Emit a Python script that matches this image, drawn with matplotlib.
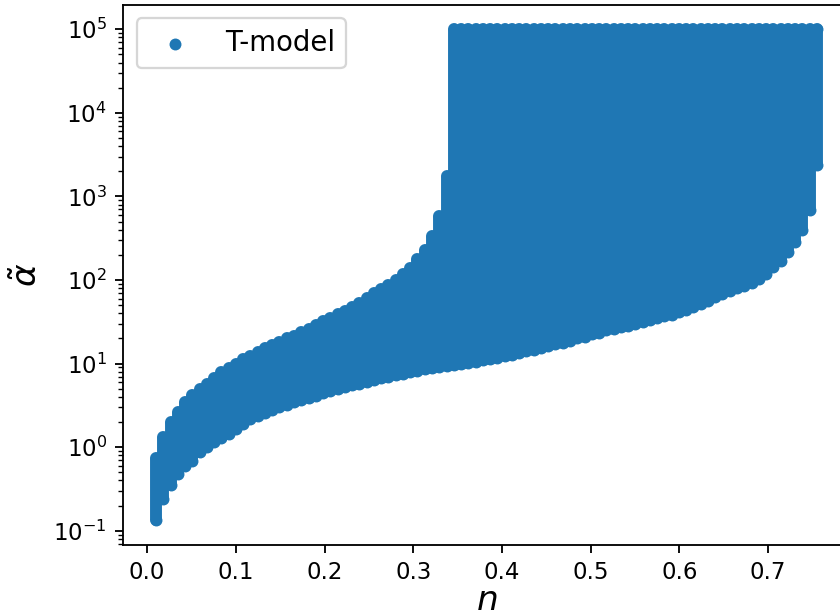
# -*- coding: utf-8 -*-

import numpy as np
import matplotlib
matplotlib.use('Agg')
import matplotlib.pyplot as plt

# n grid (columns of the scan)
n_vals = [0.0100, 0.0182, 0.0264, 0.0346, 0.0427, 0.0509, 0.0591, 0.0673, 0.0755, 0.0837,
          0.0919, 0.1001, 0.1082, 0.1164, 0.1246, 0.1328, 0.1410, 0.1492, 0.1574, 0.1656,
          0.1737, 0.1819, 0.1901, 0.1983, 0.2065, 0.2147, 0.2229, 0.2311, 0.2392, 0.2474,
          0.2556, 0.2638, 0.2720, 0.2802, 0.2884, 0.2966, 0.3047, 0.3129, 0.3211, 0.3293,
          0.3375, 0.3457, 0.3539, 0.3621, 0.3702, 0.3784, 0.3866, 0.3948, 0.4030, 0.4112,
          0.4194, 0.4276, 0.4357, 0.4439, 0.4521, 0.4603, 0.4685, 0.4767, 0.4849, 0.4931,
          0.5012, 0.5094, 0.5176, 0.5258, 0.5340, 0.5422, 0.5504, 0.5586, 0.5667, 0.5749,
          0.5831, 0.5913, 0.5995, 0.6077, 0.6159, 0.6241, 0.6322, 0.6404, 0.6486, 0.6568,
          0.6650, 0.6732, 0.6814, 0.6896, 0.6977, 0.7059, 0.7141, 0.7223, 0.7305, 0.7387,
          0.7469, 0.7551]

# smallest alpha~ found in each column
alpha_lo = [0.133, 0.242, 0.356, 0.479, 0.592, 0.692, 0.871, 1.00, 1.15, 1.29,
            1.45, 1.66, 1.91, 2.16, 2.37, 2.57, 2.79, 2.99, 3.20, 3.43,
            3.67, 3.89, 4.12, 4.42, 4.68, 4.95, 5.19, 5.50, 5.75, 6.10,
            6.38, 6.68, 7.00, 7.33, 7.59, 7.94, 8.22, 8.51, 8.81, 9.06,
            9.31, 9.55, 9.89, 10.2, 10.6, 11.0, 11.4, 11.8, 12.3, 12.8,
            13.4, 14.0, 14.7, 15.4, 16.1, 17.0, 17.9, 18.9, 20.0, 21.1,
            22.4, 23.4, 25.4, 26.2, 27.1, 28.5, 30.1, 31.4, 33.7, 35.6,
            37.1, 38.6, 41.0, 43.8, 47.5, 51.6, 56.9, 62.1, 68.1, 74.6,
            79.3, 85.7, 92.3, 103, 118, 143, 171, 216, 284, 392,
            681, 2360]

# largest alpha~ found in each column (scan capped at 1e5)
alpha_hi = [0.74, 1.34, 2.0, 2.66, 3.44, 4.18, 5.02, 5.77, 6.73, 7.89,
            8.87, 10.0, 11.4, 12.5, 13.7, 15.2, 16.5, 18.4, 20.2, 21.7,
            23.8, 26.1, 29.2, 32.3, 35.4, 38.8, 42.6, 48.0, 53.6, 60.4,
            69.3, 77.6, 86.7, 99.5, 117, 139, 178, 228, 338, 589,
            1780] + [1e5] * 51

col = '#1f77b4'
dia = 5.2  # marker diameter, points

fig = plt.figure(figsize=(840 / 165, 615 / 165), dpi=165)
ax = fig.add_axes([0.1464, 0.1138, 0.8655, 0.8785])
ax.set_yscale('log')

# each column is a dense stack of markers -> one round-capped segment
ax.vlines(n_vals, alpha_lo, alpha_hi, colors=col, linewidth=dia, capstyle='round')
ax.scatter(n_vals + n_vals, alpha_lo + alpha_hi, s=dia ** 2, c=col, linewidths=0,
           label='T-model')

ax.set_xlabel(r'$n$', fontsize=15, labelpad=0)
ax.set_ylabel(r'$\tilde{\alpha}$', fontsize=15)
ax.legend(loc='upper left', fontsize=12)

fig.savefig('out.png', dpi=165)
